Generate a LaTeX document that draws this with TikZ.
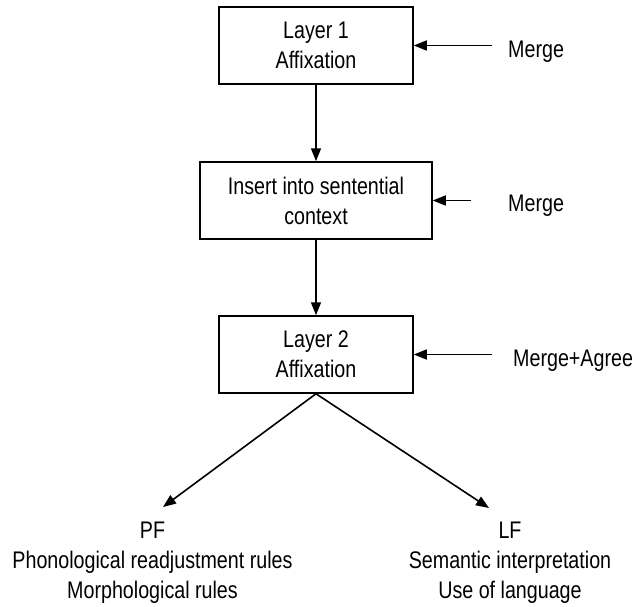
\documentclass[tikz,border=0pt]{standalone}
\usepackage{fontspec}
\setmainfont{Liberation Sans}[FakeStretch=0.82]
\usetikzlibrary{arrows.meta}

\begin{document}
\begin{tikzpicture}[x=1pt, y=-1pt,
    stage/.style={draw, line width=1.5pt, align=center, inner sep=0pt,
      font=\fontsize{24}{30}\selectfont},
    note/.style={align=center, inner sep=0pt, font=\fontsize{24}{30}\selectfont},
    flow/.style={line width=1.6pt, -{Triangle[length=13pt, width=10pt]}}]
        \useasboundingbox (0,0) rectangle (642,607);

        % Stages
        \node[stage, minimum width=194pt, minimum height=77pt] (layer1) at (316,45.5) {Layer 1\\Affixation};
        \node[stage, minimum width=232pt, minimum height=77pt] (insert) at (316,200.5) {Insert into sentential\\context};
        \node[stage, minimum width=194pt, minimum height=77pt] (layer2) at (316,354.5) {Layer 2\\Affixation};

        % Operations on the right
        \node[note, anchor=west] (merge1) at (508,52) {Merge};
        \node[note, anchor=west] (merge2) at (508,206) {Merge};
        \node[note, anchor=west] (agree) at (513,361) {Merge+Agree};
        \coordinate (m1) at (492,45.5);
        \coordinate (m2) at (471,200.5);
        \coordinate (m3) at (492,354.5);

        % Interfaces
        \node[note, anchor=north] (pf) at (152.5,522) {PF\\Phonological readjustment rules\\Morphological rules};
        \node[note, anchor=north] (lf) at (510,522) {LF\\Semantic interpretation\\Use of language};
        \coordinate (pfend) at (163,507);
        \coordinate (lfend) at (489,508);

        % Connectors
        \draw[flow] (layer1) -- (insert);
        \draw[flow] (insert) -- (layer2);
        \draw[flow] (m1) -- (layer1.east);
        \draw[flow] (m2) -- (insert.east);
        \draw[flow] (m3) -- (layer2.east);
        \draw[flow] (layer2.south) -- (pfend);
        \draw[flow] (layer2.south) -- (lfend);
    \end{tikzpicture}
\end{document}
